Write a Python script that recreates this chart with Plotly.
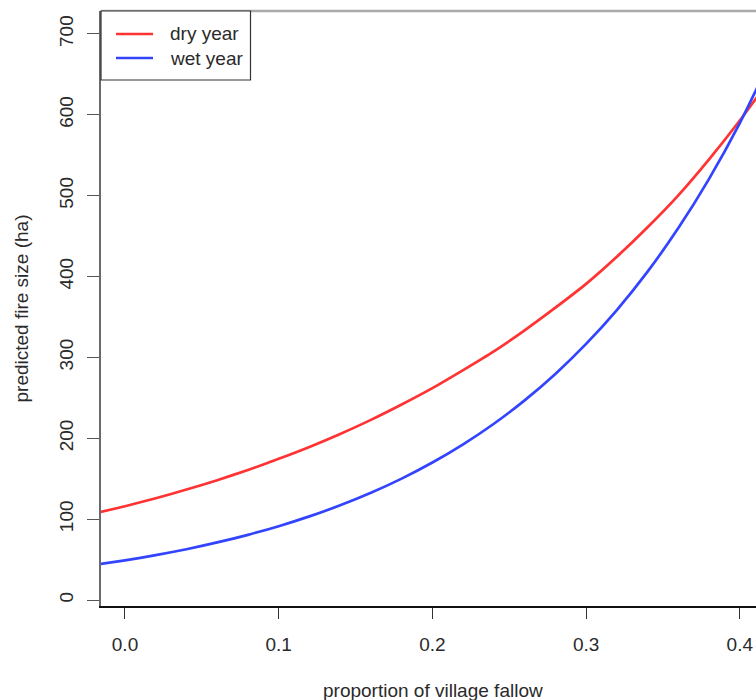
import plotly.graph_objects as go

# proportion of village fallow
fallow = [-0.02, 0.00, 0.02, 0.04, 0.06, 0.08, 0.10, 0.12, 0.14, 0.16, 0.18,
          0.20, 0.22, 0.24, 0.26, 0.28, 0.30, 0.32, 0.34, 0.36, 0.38, 0.40, 0.42]
# predicted fire size (ha)
dry_year = [106.9, 116.0, 125.9, 136.6, 148.2, 160.8, 174.6, 189.3, 205.4, 222.8, 241.8,
            262.0, 284.3, 307.5, 333.5, 361.5, 391.0, 424.5, 461.0, 500.5, 545.0, 593.0, 645.0]
wet_year = [43.3, 49.0, 55.5, 62.8, 71.2, 80.6, 91.3, 103.4, 117.1, 132.6, 150.1,
            170.0, 192.5, 218.0, 246.9, 279.6, 316.7, 358.6, 406.1, 459.9, 520.8, 589.8, 668.0]

series_names = ["dry year", "wet year"]
series_colors = ["#ff3333", "#3344ff"]

y_ticks = [0, 100, 200, 300, 400, 500, 600, 700]
x_ticks = [0.0, 0.1, 0.2, 0.3, 0.4]
x_ticklabels = ["0.0", "0.1", "0.2", "0.3", "0.4"]

FONT = "Liberation Sans, Arial, Helvetica, sans-serif"
TXT = "#2a2a2a"

fig = go.Figure()
for name, ys, col in zip(series_names, [dry_year, wet_year], series_colors):
    fig.add_trace(go.Scatter(x=fallow, y=ys, mode="lines", name=name,
                             line=dict(color=col, width=2.7, shape="spline", smoothing=0.6),
                             showlegend=False, hoverinfo="skip"))

W, H = 756, 700
L, R, T, B = 101, 0, 11, 94
pw, ph = W - L - R, H - T - B

def px(xp):
    return (xp - L) / pw

def py(yp):
    return (H - B - yp) / ph

fig.update_layout(
    width=W, height=H,
    margin=dict(l=L, r=R, t=T, b=B, pad=0),
    paper_bgcolor="white", plot_bgcolor="white",
    font=dict(family=FONT, size=19, color=TXT),
    xaxis=dict(range=[-0.01561, 0.41054], tickvals=x_ticks, ticktext=x_ticklabels,
               showgrid=False, zeroline=False, showline=True, linecolor="#111111", linewidth=1.5,
               ticks="outside", ticklen=11, tickwidth=1.2, tickcolor="#333333",
               tickfont=dict(size=19, color=TXT), ticklabelstandoff=9),
    yaxis=dict(range=[-7.4, 728.4], tickvals=y_ticks,
               showgrid=False, zeroline=False, showline=True, linecolor="#6a6a6a", linewidth=2.4,
               ticks="outside", ticklen=12, tickwidth=1.2, tickcolor="#555555",
               tickangle=-90, tickfont=dict(size=19, color=TXT), ticklabelstandoff=6),
)

shapes = [
    # top frame line
    dict(type="line", xref="paper", yref="paper", x0=0, x1=1, y0=1, y1=1,
         line=dict(color="#aaaaaa", width=2.5)),
    # legend box
    dict(type="rect", xref="paper", yref="paper", x0=px(101), x1=px(250.5), y0=py(80), y1=py(11),
         line=dict(color="#333333", width=1.2), fillcolor="white"),
]
annotations = [
    dict(text="proportion of village fallow", xref="paper", yref="paper",
         x=px(433), y=py(690), xanchor="center", yanchor="middle", showarrow=False,
         font=dict(size=19, color=TXT)),
    dict(text="predicted fire size (ha)", xref="paper", yref="paper",
         x=px(21), y=0.5, xanchor="center", yanchor="middle", textangle=-90, showarrow=False,
         font=dict(size=19, color=TXT)),
]
for i, (name, col) in enumerate(zip(series_names, series_colors)):
    yy = [34, 58][i]
    shapes.append(dict(type="line", xref="paper", yref="paper", x0=px(116), x1=px(153),
                       y0=py(yy), y1=py(yy), line=dict(color=col, width=2.7)))
    annotations.append(dict(text=name, xref="paper", yref="paper", x=px(168), y=py(yy),
                            xanchor="left", yanchor="middle", showarrow=False,
                            font=dict(size=19, color=TXT)))

fig.update_layout(shapes=shapes, annotations=annotations)
fig.write_html("out.html")
